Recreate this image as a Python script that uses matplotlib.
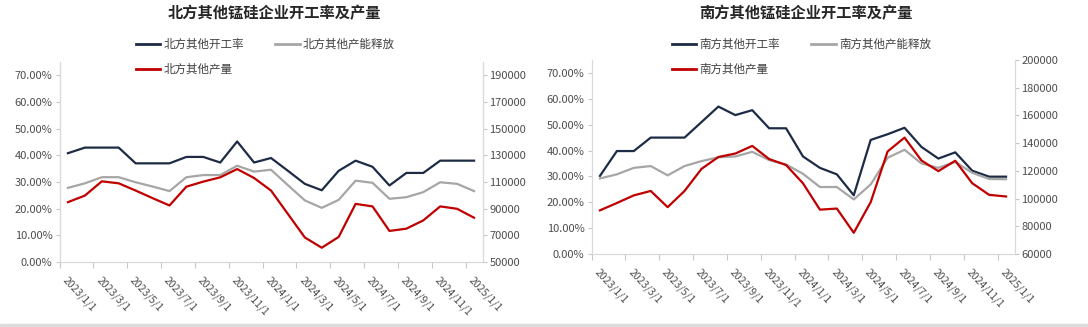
import matplotlib
matplotlib.use("Agg")
import matplotlib.pyplot as plt
import numpy as np
from matplotlib.lines import Line2D
from matplotlib.patches import Rectangle
from matplotlib.ticker import PercentFormatter, FixedLocator

plt.rcParams['font.family'] = ['Noto Sans CJK SC', 'DejaVu Sans']

months = ["2023/1/1", "2023/2/1", "2023/3/1", "2023/4/1", "2023/5/1", "2023/6/1",
          "2023/7/1", "2023/8/1", "2023/9/1", "2023/10/1", "2023/11/1", "2023/12/1",
          "2024/1/1", "2024/2/1", "2024/3/1", "2024/4/1", "2024/5/1", "2024/6/1",
          "2024/7/1", "2024/8/1", "2024/9/1", "2024/10/1", "2024/11/1", "2024/12/1",
          "2025/1/1"]

# 北方 (%, %, 吨)
north_rate = [40.8, 42.9, 42.9, 42.9, 37.0, 37.0, 37.0, 39.4, 39.4, 37.3, 45.2, 37.3,
              39.0, 34.2, 29.3, 26.9, 34.2, 38.0, 35.7, 28.7, 33.4, 33.4, 38.0, 38.0, 38.0]
north_capacity = [27.8, 29.5, 31.8, 31.8, 29.9, 28.3, 26.6, 31.8, 32.6, 32.6, 36.1, 33.9,
                  34.6, 28.8, 23.1, 20.3, 23.3, 30.5, 29.7, 23.7, 24.3, 26.2, 29.9, 29.3, 26.6]
north_output = [94900, 99800, 110500, 109000, 103600, 97900, 92400, 106500, 110300, 113500,
                119700, 113000, 103600, 86000, 68400, 60700, 68800, 93600, 91700, 73300,
                75000, 81200, 91700, 89900, 83200]

# 南方 (%, %, 吨)
south_rate = [30.2, 39.8, 39.8, 45.0, 45.0, 45.0, 51.0, 57.0, 53.7, 55.6, 48.6, 48.6,
              37.7, 33.3, 30.8, 22.7, 44.1, 46.3, 48.8, 41.4, 36.9, 39.3, 32.2, 29.9, 29.9]
south_capacity = [29.2, 30.8, 33.3, 34.0, 30.4, 34.0, 35.9, 37.4, 37.7, 39.5, 36.3, 34.6,
                  31.0, 25.9, 25.9, 21.1, 26.9, 37.2, 40.3, 35.0, 33.3, 35.6, 31.4, 29.0, 28.9]
south_output = [91500, 96800, 102300, 105500, 93800, 105500, 121400, 130000, 132500, 138000,
                128500, 124200, 111000, 92000, 92800, 75300, 97400, 134000, 144000, 127500,
                119800, 127300, 111100, 102700, 101500]

DARK = "#1d2b45"
GRAY = "#a6a6a6"
RED = "#c00000"
AXIS = "#d9d9d9"
TXT = "#4d4d4d"

W, H = 1088, 327
fig = plt.figure(figsize=(W / 100, H / 100), dpi=100)
fig.patches.append(Rectangle((0, 0), 1, 3 / H, transform=fig.transFigure,
                             color="#dcdcdc", zorder=0))


def panel(rect, region, rate, capacity, output, out_lim, out_ticks, legend_xy):
    ax = fig.add_axes([rect[0] / W, 1 - rect[3] / H, (rect[1] - rect[0]) / W,
                       (rect[3] - rect[2]) / H])
    x = np.arange(len(months))
    ax.plot(x, rate, color=DARK, lw=1.6)
    ax.plot(x, capacity, color=GRAY, lw=1.6)
    ax.set_xlim(-0.5, len(months) - 0.5)
    ax.set_ylim(0, 75)
    ax.set_yticks(np.arange(0, 71, 10))
    ax.yaxis.set_major_formatter(PercentFormatter(100, decimals=2))

    ax2 = ax.twinx()
    ax2.plot(x, output, color=RED, lw=1.6)
    ax2.set_ylim(*out_lim)
    ax2.set_yticks(out_ticks)

    for a in (ax, ax2):
        for s in a.spines.values():
            s.set_color(AXIS)
            s.set_linewidth(0.8)
        a.spines["top"].set_visible(False)
        a.tick_params(axis="y", colors=TXT, labelsize=8, length=3, width=0.8,
                      color="#c8c8c8", pad=2)

    ax.set_xticks(x[::2])
    ax.set_xticklabels(months[::2], rotation=-47, ha="left", va="top",
                       rotation_mode="anchor", fontsize=7.5, color=TXT)
    ax.tick_params(axis="x", length=0, pad=9)
    ax.xaxis.set_minor_locator(FixedLocator(np.arange(-0.5, len(months) - 1, 2)))
    ax.tick_params(axis="x", which="minor", length=4, width=0.8, color="#c8c8c8")

    cx = (rect[0] + rect[1]) / 2 / W
    fig.text(cx + 3 / W, 1 - 13 / H, f"{region}其他锰硅企业开工率及产量",
             ha="center", va="center", fontsize=11, fontweight="bold", color="#262626")

    handles = [Line2D([], [], color=DARK, lw=2, label=f"{region}其他开工率"),
               Line2D([], [], color=RED, lw=2, label=f"{region}其他产量"),
               Line2D([], [], color=GRAY, lw=2, label=f"{region}其他产能释放")]
    ax2.legend(handles=handles, ncol=2, loc="upper left",
               bbox_to_anchor=(legend_xy[0] / W, 1 - legend_xy[1] / H),
               bbox_transform=fig.transFigure, frameon=False, fontsize=8.3,
               handlelength=2.1, handletextpad=0.3, columnspacing=2.7,
               labelspacing=1.05, borderaxespad=0, borderpad=0, labelcolor="#404040")
    return ax


panel((59.5, 482.5, 62, 262), "北方", north_rate, north_capacity, north_output,
      (50000, 200000), np.arange(50000, 190001, 20000), (136, 38))
panel((591.5, 1014.5, 60, 254), "南方", south_rate, south_capacity, south_output,
      (60000, 200000), np.arange(60000, 200001, 20000), (672, 38))

fig.savefig("out.png", dpi=100)
